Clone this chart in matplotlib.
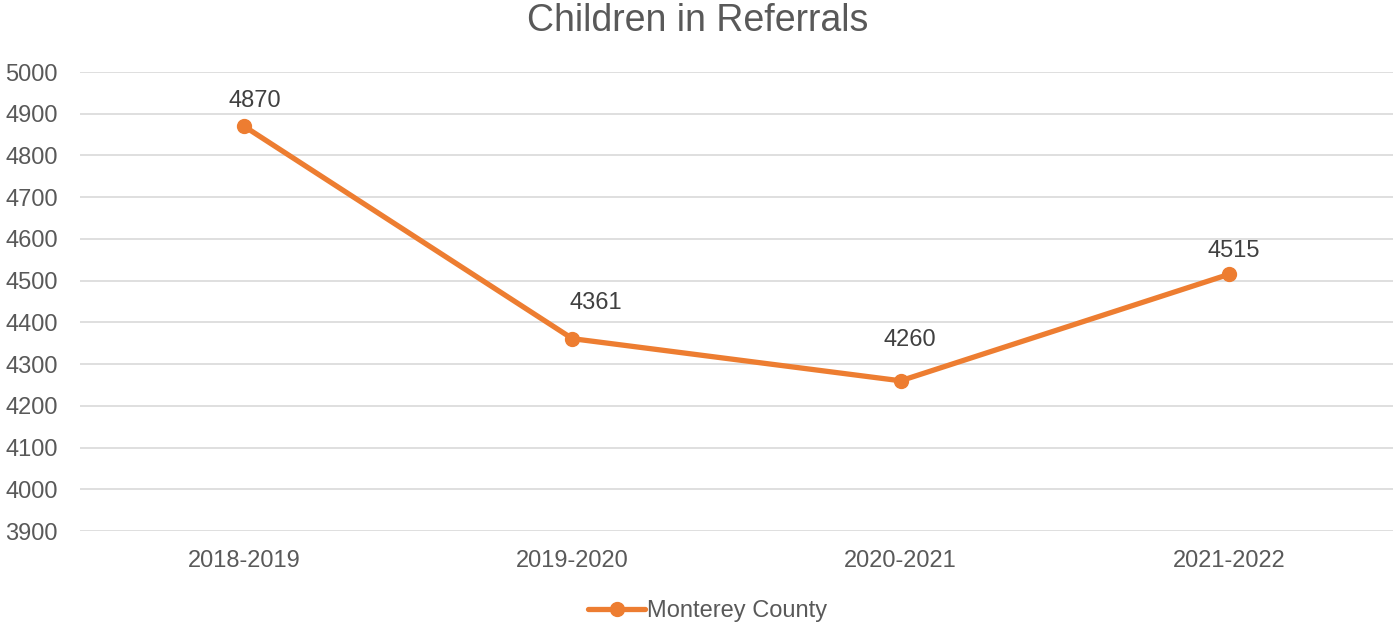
import matplotlib.pyplot as plt

years = ["2018-2019", "2019-2020", "2020-2021", "2021-2022"]
children = [4870, 4361, 4260, 4515]
series_name = "Monterey County"

# label offsets (points) as placed in the original chart
label_offsets = [(8, 18), (17, 26), (6.5, 29.5), (3.6, 16.5)]

plt.rcParams["font.family"] = ["Liberation Sans", "DejaVu Sans"]
text_color = "#595959"
line_color = "#ED7D31"

fig = plt.figure(figsize=(13.96, 6.29), dpi=100)
ax = fig.add_axes([0.0573, 0.1558, 0.9405, 0.7297])

x = range(len(years))
ax.plot(x, children, color=line_color, linewidth=3.8, marker="o", markersize=10,
        label=series_name, solid_capstyle="round")
for i, v in enumerate(children):
    ax.annotate(str(v), (i, v), xytext=label_offsets[i], textcoords="offset points",
                ha="center", va="center", fontsize=17, color="#404040")

ax.set_xlim(-0.5, len(years) - 0.5)
ax.set_ylim(3900, 5000)
ax.set_yticks(range(3900, 5001, 100))
ax.set_xticks(list(x))
ax.set_xticklabels(years)
ax.tick_params(axis="both", length=0, labelsize=17, labelcolor=text_color)
ax.tick_params(axis="x", pad=14)
ax.tick_params(axis="y", pad=16)
ax.grid(axis="y", color="#D9D9D9", linewidth=1.2)
ax.set_axisbelow(True)
for s in ax.spines.values():
    s.set_visible(False)

fig.suptitle("Children in Referrals", fontsize=27, color=text_color, y=0.995, va="top")
fig.legend(loc="lower center", bbox_to_anchor=(0.507, -0.023), frameon=False, fontsize=17,
           handlelength=2.4, handletextpad=0.1, labelcolor=text_color)

fig.savefig("out.png", dpi=100)
